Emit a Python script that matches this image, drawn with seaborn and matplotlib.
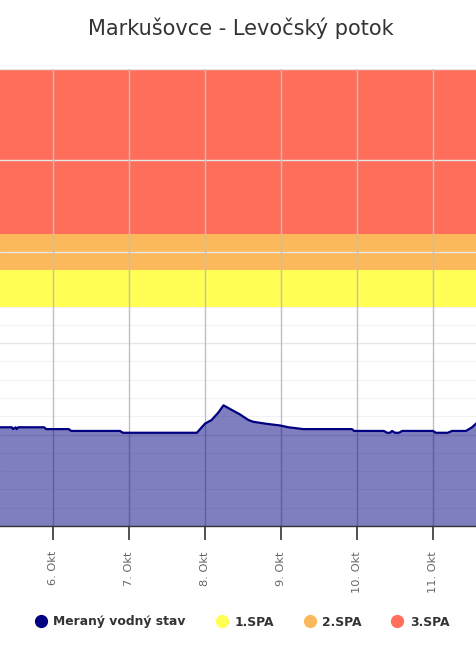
import pandas as pd
import numpy as np
import seaborn as sns
import matplotlib
matplotlib.use('Agg')
import matplotlib.pyplot as plt
from matplotlib.lines import Line2D

# Water level readings (cm)
times = [
    '2024-10-05 07:15', '2024-10-05 11:00', '2024-10-05 11:20', '2024-10-05 12:10',
    '2024-10-05 12:30', '2024-10-05 13:00', '2024-10-05 21:10', '2024-10-05 21:50',
    '2024-10-06 05:00', '2024-10-06 05:40', '2024-10-06 21:10', '2024-10-06 22:05',
    '2024-10-07 21:25', '2024-10-08 00:00', '2024-10-08 02:05', '2024-10-08 04:10',
    '2024-10-08 05:50', '2024-10-08 07:55', '2024-10-08 11:05', '2024-10-08 13:40',
    '2024-10-08 15:15', '2024-10-08 19:00', '2024-10-08 23:40', '2024-10-09 02:20',
    '2024-10-09 07:05', '2024-10-09 22:25', '2024-10-09 23:05', '2024-10-10 08:30',
    '2024-10-10 09:30', '2024-10-10 10:25', '2024-10-10 11:05', '2024-10-10 12:00',
    '2024-10-10 13:15', '2024-10-10 14:15', '2024-10-11 00:00', '2024-10-11 00:55',
    '2024-10-11 04:40', '2024-10-11 06:00', '2024-10-11 10:25', '2024-10-11 12:20',
    '2024-10-11 13:35', '2024-10-11 14:50',
]
levels = [
    54, 54, 53, 54,
    53, 54, 54, 53,
    53, 52, 52, 51,
    51, 56, 58, 62,
    66, 64, 61, 58,
    57, 56, 55, 54,
    53, 53, 52, 52,
    51, 51, 52, 51,
    51, 52, 52, 51,
    51, 52, 52, 54,
    56, 57,
]

# flood warning levels (stupne povodnovej aktivity)
spa_names = ['1.SPA', '2.SPA', '3.SPA']
spa_lower = [120, 140, 160]
spa_upper = [140, 160, 250]
spa_colors = ['#ffff55', '#fcb95b', '#ff6e5a']

tick_days = ['2024-10-06', '2024-10-07', '2024-10-08', '2024-10-09', '2024-10-10', '2024-10-11']
tick_labels = ['6. Okt', '7. Okt', '8. Okt', '9. Okt', '10. Okt', '11. Okt']

title = 'Markušovce - Levočský potok'
series_name = 'Meraný vodný stav'


def main():
    sns.set_style('white')
    plt.rcParams['font.family'] = ['DejaVu Sans']

    df = pd.DataFrame({'cas': pd.to_datetime(times), 'stav': levels})

    fig = plt.figure(figsize=(4.76, 6.5), dpi=100)
    ax = fig.add_axes([0.0, 124 / 650, 1.0, 457 / 650])

    # warning bands
    for lo, hi, col in zip(spa_lower, spa_upper, spa_colors):
        ax.axhspan(lo, hi, color=col, zorder=0.6, lw=0)

    # grid
    for v in range(0, 251, 10):
        if v % 50 == 0:
            ax.axhline(v, color='#e6e6e6', lw=1, zorder=1)
        else:
            ax.axhline(v, color='#f2f2f2', lw=0.8, zorder=0.5)
    for d in pd.to_datetime(tick_days):
        ax.axvline(d, color='#c0c0c0', lw=1, zorder=1)

    ax.fill_between(df['cas'], df['stav'], 0, color='#000080', alpha=0.5, lw=0, zorder=2)
    sns.lineplot(data=df, x='cas', y='stav', color='#000080', lw=1.6, ax=ax, zorder=3)

    ax.set_xlim(pd.Timestamp('2024-10-05 07:15'), pd.Timestamp('2024-10-11 13:35'))
    ax.set_ylim(0, 250)

    ax.set_xticks(pd.to_datetime(tick_days))
    ax.set_xticklabels(tick_labels, rotation=90, color='#666666', fontsize=8.2)
    ax.tick_params(axis='x', length=10, width=1.2, color='#333333', pad=8, bottom=True)
    ax.set_yticks([])
    ax.set_xlabel('')
    ax.set_ylabel('')
    for s in ['top', 'left', 'right']:
        ax.spines[s].set_visible(False)
    ax.spines['bottom'].set_color('#333333')
    ax.spines['bottom'].set_linewidth(1)
    ax.spines['bottom'].set_zorder(4)

    fig.text(0.505, 1 - 28 / 650, title, ha='center', va='center', fontsize=15, color='#333333')

    handles = [Line2D([], [], marker='o', ls='', color='#000080', markersize=8.5)]
    for col in spa_colors:
        handles.append(Line2D([], [], marker='o', ls='', color=col, markersize=8.5))
    leg = fig.legend(handles, [series_name] + spa_names, loc='center', ncol=4,
                     bbox_to_anchor=(0.51, 1 - 622 / 650), frameon=False,
                     handlelength=0.8, handletextpad=0.6, columnspacing=2.5,
                     prop={'weight': 'bold', 'size': 8.9})
    for t in leg.get_texts():
        t.set_color('#333333')

    fig.savefig('out.png', dpi=100)


if __name__ == '__main__':
    main()
